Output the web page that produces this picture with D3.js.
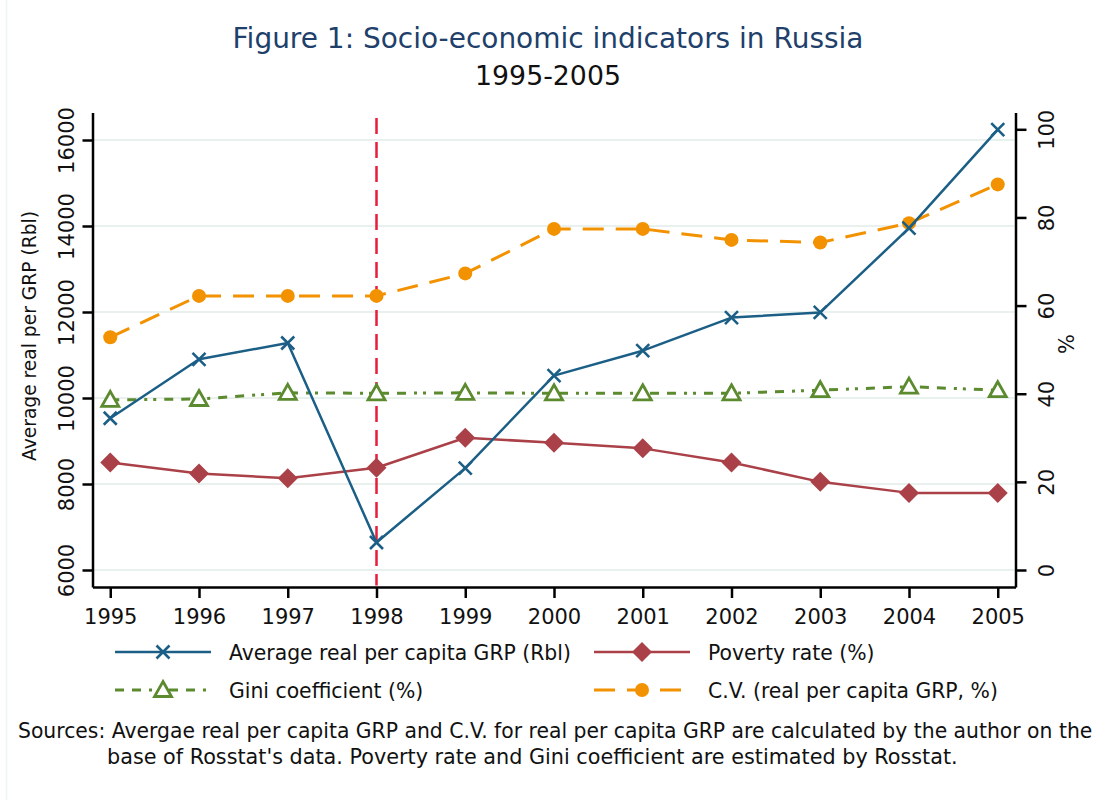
<!DOCTYPE html>
<html><head><meta charset="utf-8">
<script src="https://cdn.jsdelivr.net/npm/d3@7"></script>
<style>
html,body{margin:0;padding:0;background:#fff;}
svg{display:block;font-family:"DejaVu Sans",sans-serif;}
</style></head>
<body>
<svg id="chart" width="1096" height="800"></svg>
<script>
// ---- data ----
const years = [1995, 1996, 1997, 1998, 1999, 2000, 2001, 2002, 2003, 2004, 2005];
const grp = [9530, 10900, 11280, 6640, 8370, 10520, 11100, 11870, 11990, 13950, 16240];
const poverty = [24.4, 21.9, 20.8, 23.2, 30.0, 28.9, 27.6, 24.4, 20.0, 17.5, 17.5];
const gini = [38.6, 38.8, 40.2, 40.1, 40.2, 40.1, 40.1, 40.1, 40.8, 41.6, 40.8];
const cv = [52.8, 62.2, 62.2, 62.2, 67.3, 77.4, 77.4, 74.9, 74.3, 78.7, 87.5];
const leftTicks = [6000, 8000, 10000, 12000, 14000, 16000];
const rightTicks = [0, 20, 40, 60, 80, 100];
const markYear = 1998;
const titleText = "Figure 1: Socio-economic indicators in Russia";
const subtitleText = "1995-2005";
const leftTitle = "Average real per GRP (Rbl)";
const rightTitle = "%";
const legendLabels = ["Average real per capita GRP (Rbl)", "Poverty rate (%)", "Gini coefficient (%)", "C.V. (real per capita GRP, %)"];
const noteLines = ["Sources: Avergae real per capita GRP and C.V. for real per capita GRP are calculated by the author on the",
                   "base of Rosstat's data. Poverty rate and Gini coefficient are estimated by Rosstat."];

// ---- layout ----
const svg = d3.select("#chart");
const L = 92.5, R = 1015.5, T = 112.5, B = 587;
const C = {blue:"#1c5f86", maroon:"#aa4048", green:"#5b8a2f", orange:"#f39200", red:"#e41e3c", navy:"#213f6b", grid:"#e9f1ef"};

const x = d3.scaleLinear().domain([1994.8, 2005.2]).range([L, R]);
const yL0 = d3.scaleLinear().domain([6000, 16000]).range([570, 140]);
const yL = d3.scaleLinear().domain([yL0.invert(B), yL0.invert(T)]).range([B, T]);
const yR0 = d3.scaleLinear().domain([0, 100]).range([570, 129.3]);
const yR = d3.scaleLinear().domain([yR0.invert(B), yR0.invert(T)]).range([B, T]);

function fit(sel, w) {
  const n = sel.node();
  const fs = parseFloat(sel.attr("font-size"));
  const cur = n.getComputedTextLength();
  sel.attr("font-size", (fs * w / cur).toFixed(2));
  return sel;
}

// faint outer border
svg.append("line").attr("x1",6.5).attr("x2",6.5).attr("y1",0).attr("y2",800).attr("stroke","#edf4f3").attr("stroke-width",1.5);

// title
fit(svg.append("text").attr("x",548).attr("y",48).attr("text-anchor","middle").attr("font-size",26).attr("fill",C.navy).text(titleText), 631);
fit(svg.append("text").attr("x",548).attr("y",85).attr("text-anchor","middle").attr("font-size",24).attr("fill","#111").text(subtitleText), 146);

// gridlines
svg.append("g").selectAll("line").data(leftTicks).join("line")
  .attr("x1", L+1).attr("x2", R-1).attr("y1", d=>yL(d)).attr("y2", d=>yL(d))
  .attr("stroke", C.grid).attr("stroke-width", 2);

// axes
const axL = svg.append("g").attr("transform",`translate(${L},0)`)
  .call(d3.axisLeft(yL).tickValues(leftTicks).tickSize(10).tickSizeOuter(0).tickFormat(d3.format("d")));
const axR = svg.append("g").attr("transform",`translate(${R},0)`)
  .call(d3.axisRight(yR).tickValues(rightTicks).tickSize(11).tickSizeOuter(0).tickFormat(d3.format("d")));
const axB = svg.append("g").attr("transform",`translate(0,${B})`)
  .call(d3.axisBottom(x).tickValues(years).tickSize(11).tickSizeOuter(0).tickFormat(d3.format("d")));
[axL, axR, axB].forEach(a => {
  a.select(".domain").attr("stroke","#000").attr("stroke-width",2.5);
  a.selectAll(".tick line").attr("stroke","#000").attr("stroke-width",2.5);
  a.selectAll(".tick text").attr("fill","#111").attr("font-family","DejaVu Sans").attr("font-size",21);
});
axL.selectAll(".tick text").attr("x",null).attr("dy",null).attr("text-anchor","middle")
  .attr("transform","translate(-19,0) rotate(-90)");
axR.selectAll(".tick text").attr("x",null).attr("dy",null).attr("text-anchor","middle")
  .attr("transform","translate(38,0) rotate(-90)");
axB.selectAll(".tick text").attr("y",null).attr("dy",null).attr("transform","translate(0,37)");

// axis titles
fit(svg.append("text").attr("transform","translate(36,336) rotate(-90)").attr("text-anchor","middle").attr("font-size",20).attr("fill","#111").text(leftTitle), 250);
svg.append("text").attr("transform","translate(1074,344) rotate(-90)").attr("text-anchor","middle").attr("font-size",21).attr("fill","#111").text(rightTitle);

// vertical reference line
svg.append("line").attr("x1", x(markYear)).attr("x2", x(markYear)).attr("y1", 118).attr("y2", B-1.5)
  .attr("stroke", C.red).attr("stroke-width", 2.5).attr("stroke-dasharray","16,8");

// series
const series = [
  {vals: grp, y: yL, color: C.blue, dash: null, marker: "x", w: 2.5},
  {vals: poverty, y: yR, color: C.maroon, dash: null, marker: "diamond", w: 2.5},
  {vals: gini, y: yR, color: C.green, dash: "9,8,9,8,3,6,3,8", marker: "triangle", w: 3},
  {vals: cv, y: yR, color: C.orange, dash: "21,12", marker: "circle", w: 3}
];
function drawMarker(g, type, color) {
  if (type === "x") {
    g.append("path").attr("d","M-6.5,-6.5L6.5,6.5M-6.5,6.5L6.5,-6.5").attr("stroke",color).attr("stroke-width",2.6).attr("fill","none");
  } else if (type === "diamond") {
    g.append("path").attr("d","M0,-10L10,0L0,10L-10,0Z").attr("fill",color);
  } else if (type === "triangle") {
    g.append("path").attr("d","M0,-8.5L8.5,6.5L-8.5,6.5Z").attr("fill","#fff").attr("stroke",color).attr("stroke-width",2.8).attr("stroke-linejoin","miter");
  } else {
    g.append("circle").attr("r",7).attr("fill",color);
  }
}
const line = d3.line();
const drawOrder = [2, 3, 1, 0];
drawOrder.forEach(i => {
  const s = series[i];
  const pts = years.map((yr, k) => [x(yr), s.y(s.vals[k])]);
  svg.append("path").attr("d", line(pts)).attr("fill","none").attr("stroke", s.color)
    .attr("stroke-width", s.w).attr("stroke-dasharray", s.dash).attr("stroke-linejoin","round");
  pts.forEach(p => drawMarker(svg.append("g").attr("transform",`translate(${p[0]},${p[1]})`), s.marker, s.color));
});

// legend
const legPos = [[115, 652], [594, 652], [115, 690], [594, 690]];
series.forEach((s, i) => {
  const [lx, ly] = legPos[i];
  svg.append("line").attr("x1", lx).attr("x2", lx+96).attr("y1", ly).attr("y2", ly)
    .attr("stroke", s.color).attr("stroke-width", s.w).attr("stroke-dasharray", s.dash);
  drawMarker(svg.append("g").attr("transform",`translate(${lx+48},${ly})`), s.marker, s.color);
  svg.append("text").attr("class","leg").attr("x", lx+114).attr("y", ly+7.5).attr("font-size", 20).attr("fill","#111").text(legendLabels[i]);
});
const first = svg.selectAll("text.leg").filter(function(){ return this.textContent === legendLabels[0]; });
fit(first, 342);
svg.selectAll("text.leg").attr("font-size", first.attr("font-size"));

// footnote
const n2 = svg.append("text").attr("x",107).attr("y",764).attr("font-size",20).attr("fill","#111").text(noteLines[1]);
fit(n2, 851);
const n1 = svg.append("text").attr("x",18).attr("y",738).attr("font-size",n2.attr("font-size")).attr("fill","#111").text(noteLines[0]);
fit(n1, 1074);
</script>
</body></html>
